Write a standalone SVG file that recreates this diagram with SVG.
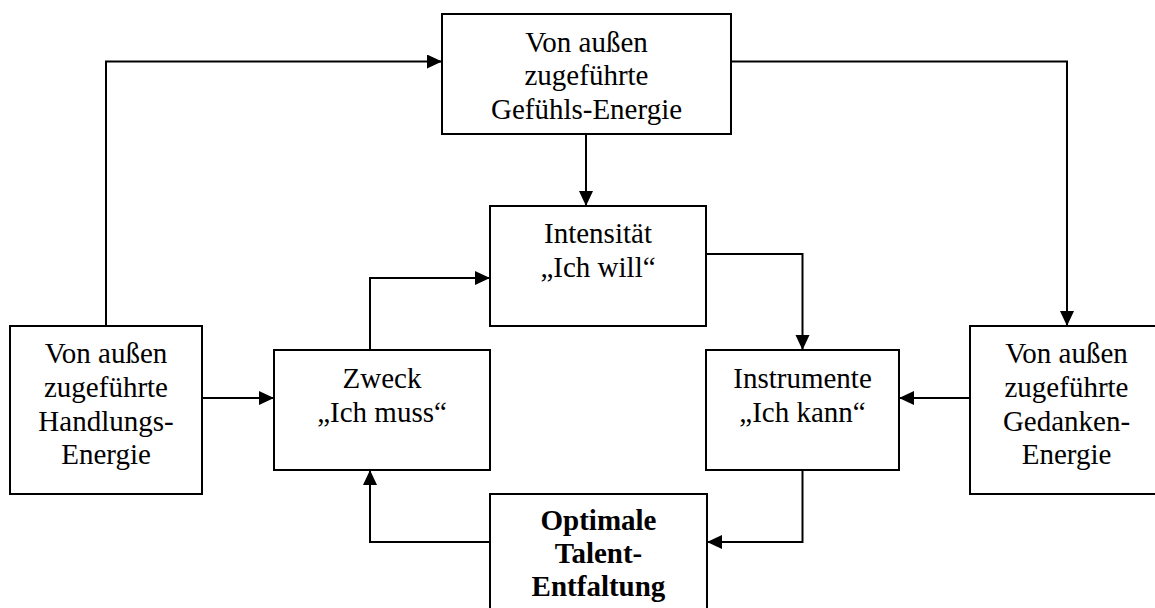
<svg xmlns="http://www.w3.org/2000/svg" width="1155" height="608" viewBox="0 0 1155 608">
<style>
.box{fill:#fff;stroke:#000;stroke-width:2}
.t{font-family:"Liberation Serif","Times New Roman",serif;font-size:29px;fill:#000;text-anchor:middle}
.b{font-weight:bold}
.c{fill:none;stroke:#000;stroke-width:2;marker-end:url(#ah)}
</style>
<defs>
<marker id="ah" markerUnits="userSpaceOnUse" markerWidth="16" markerHeight="15" refX="15" refY="7" orient="auto">
<path d="M0,0 L15,7 L0,14 z" fill="#000"/>
</marker>
</defs>
<rect width="1155" height="608" fill="#fff"/>
<g id="connectors">
<path class="c" d="M106,326 V61.5 H442"/>
<path class="c" d="M731,61.5 H1067 V326"/>
<path class="c" d="M586,134 V206"/>
<path class="c" d="M706,254 H802.5 V350"/>
<path class="c" d="M370,350 V278 H490"/>
<path class="c" d="M202,398 H274"/>
<path class="c" d="M970,398 H899"/>
<path class="c" d="M802.5,470 V542 H707"/>
<path class="c" d="M490,542 H370 V470"/>
</g>
<g id="gefuehl">
<rect class="box" x="442" y="14" width="289" height="120"/>
<text class="t" x="586.5" y="51.5">Von außen</text>
<text class="t" x="586.5" y="85">zugeführte</text>
<text class="t" x="586.5" y="118.5">Gefühls-Energie</text>
</g>
<g id="intensitaet">
<rect class="box" x="490" y="206" width="216" height="120"/>
<text class="t" x="598" y="243">Intensität</text>
<text class="t" x="598" y="277">„Ich will“</text>
</g>
<g id="handlung">
<rect class="box" x="10" y="326" width="192" height="168"/>
<text class="t" x="106" y="363">Von außen</text>
<text class="t" x="106" y="397">zugeführte</text>
<text class="t" x="106" y="430.5">Handlungs-</text>
<text class="t" x="106" y="464">Energie</text>
</g>
<g id="zweck">
<rect class="box" x="274" y="350" width="216" height="120"/>
<text class="t" x="382" y="388">Zweck</text>
<text class="t" x="382" y="421.5">„Ich muss“</text>
</g>
<g id="instrumente">
<rect class="box" x="706" y="350" width="193" height="120"/>
<text class="t" x="802.5" y="388">Instrumente</text>
<text class="t" x="802.5" y="421.5">„Ich kann“</text>
</g>
<g id="gedanken">
<rect class="box" x="970" y="326" width="193" height="168"/>
<text class="t" x="1066.5" y="363">Von außen</text>
<text class="t" x="1066.5" y="397">zugeführte</text>
<text class="t" x="1066.5" y="430.5">Gedanken-</text>
<text class="t" x="1066.5" y="464">Energie</text>
</g>
<g id="optimal">
<rect class="box" x="490" y="494" width="217" height="130"/>
<text class="t b" x="598.5" y="530">Optimale</text>
<text class="t b" x="598.5" y="563">Talent-</text>
<text class="t b" x="598.5" y="596">Entfaltung</text>
</g>
</svg>
